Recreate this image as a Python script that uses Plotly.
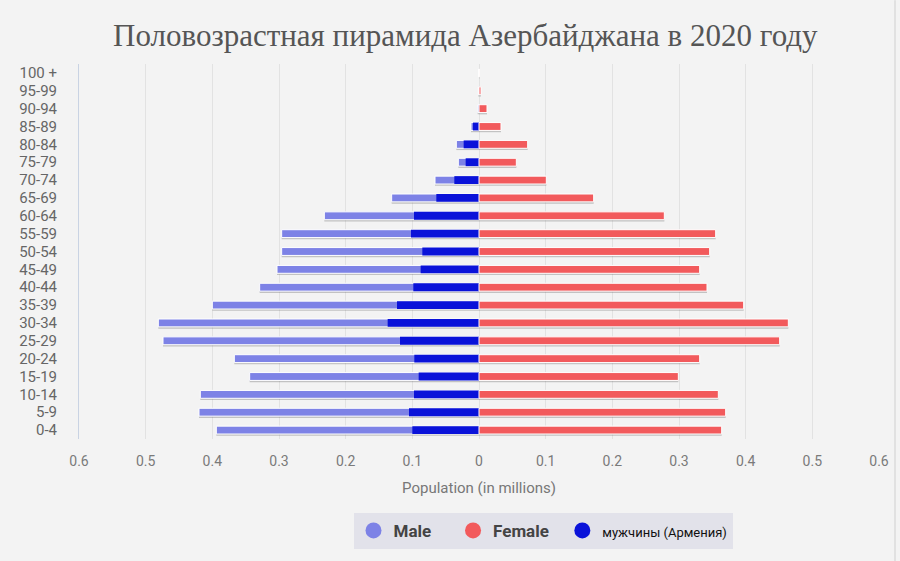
import plotly.graph_objects as go

ages = ["0-4", "5-9", "10-14", "15-19", "20-24", "25-29", "30-34", "35-39",
        "40-44", "45-49", "50-54", "55-59", "60-64", "65-69", "70-74", "75-79",
        "80-84", "85-89", "90-94", "95-99", "100 +"]
male = [0.394, 0.420, 0.418, 0.344, 0.367, 0.474, 0.481, 0.400, 0.329, 0.303,
        0.296, 0.296, 0.232, 0.131, 0.066, 0.031, 0.034, 0.012, 0.002, 0.001, 0.0]
female = [0.364, 0.370, 0.359, 0.299, 0.331, 0.451, 0.464, 0.397, 0.342, 0.331,
          0.346, 0.355, 0.278, 0.172, 0.101, 0.056, 0.073, 0.033, 0.012, 0.003, 0.0005]
male_armenia = [0.100, 0.105, 0.0975, 0.0905, 0.097, 0.1185, 0.137, 0.123, 0.0985, 0.0875,
                0.085, 0.102, 0.0975, 0.064, 0.037, 0.020, 0.023, 0.009, 0.0, 0.0, 0.0]
tick_vals = [-0.6, -0.5, -0.4, -0.3, -0.2, -0.1, 0, 0.1, 0.2, 0.3, 0.4, 0.5, 0.6]
tick_text = ["0.6", "0.5", "0.4", "0.3", "0.2", "0.1", "0", "0.1", "0.2", "0.3", "0.4", "0.5", "0.6"]

C_MALE = "#7d82e6"
C_FEMALE = "#f25a5c"
C_ARM = "#0a12d9"
SHADOW = "rgba(120,120,120,0.4)"
W = 0.44

fig = go.Figure()

neg = lambda arr: [-v for v in arr]

# shadows
for vals in (neg(male), female):
    fig.add_trace(go.Bar(y=ages, x=vals, orientation="h", width=W, offset=-W / 2 - 0.1,
                         marker=dict(color=SHADOW, line=dict(width=0)),
                         showlegend=False, hoverinfo="skip"))

fig.add_trace(go.Bar(y=ages, x=neg(male), orientation="h", width=W, offset=-W / 2,
                     marker=dict(color=C_MALE, line=dict(color="white", width=1)),
                     name="Male", showlegend=False))
fig.add_trace(go.Bar(y=ages, x=neg(male_armenia), orientation="h", width=W, offset=-W / 2,
                     marker=dict(color=C_ARM, line=dict(color="white", width=0)),
                     name="мужчины (Армения)", showlegend=False))
fig.add_trace(go.Bar(y=ages, x=female, orientation="h", width=W, offset=-W / 2,
                     marker=dict(color=C_FEMALE, line=dict(color="white", width=1)),
                     name="Female", showlegend=False))

# legend entries
legend_items = [("<b>Male</b>    ", C_MALE), ("<b>Female</b>  ", C_FEMALE),
                ("<span style='font-size:13px;color:#111'>мужчины (Армения)</span>", C_ARM)]
for nm, col in legend_items:
    fig.add_trace(go.Scatter(x=[None], y=[None], mode="markers", name=nm,
                             marker=dict(symbol="circle", size=16, color=col)))

fig.update_layout(
    width=900, height=561,
    paper_bgcolor="#f3f3f3", plot_bgcolor="#f3f3f3",
    barmode="overlay",
    margin=dict(l=79, r=21, t=64, b=120),
    title=dict(text="Половозрастная пирамида Азербайджана в 2020 году",
               x=0.517, xanchor="center", y=0.937, yanchor="middle",
               font=dict(family="Liberation Serif", size=31, color="#555555")),
    xaxis=dict(range=[-0.6, 0.6], tickvals=tick_vals, ticktext=tick_text,
               showgrid=True, gridcolor="#e2e2e2", gridwidth=1, zeroline=False,
               tickfont=dict(family="Roboto", size=14, color="#7a7a7a"),
               ticklabelstandoff=12, fixedrange=True,
               title=dict(text="Population (in millions)", standoff=14,
                          font=dict(family="Roboto", size=15, color="#777777"))),
    yaxis=dict(type="category", categoryorder="array", categoryarray=ages,
               tickmode="array", tickvals=ages, ticktext=ages,
               showgrid=False, zeroline=False, showline=True, linecolor="#c9d3e3", linewidth=1,
               tickfont=dict(family="Roboto", size=15, color="#666666"),
               ticklabelstandoff=18),
    legend=dict(orientation="h", x=0.58, xanchor="center", y=-0.245, yanchor="middle",
                bgcolor="#e2e2ea", font=dict(family="Roboto", size=17, color="#444444"),
                itemsizing="trace", traceorder="normal"),
    showlegend=True,
)

fig.add_shape(type="line", xref="paper", yref="paper", x0=1.02, x1=1.02, y0=-0.33, y1=1.17,
              line=dict(color="#cfcfcf", width=1))

fig.write_html("out.html", config={"displayModeBar": False},
               post_script="document.body.style.margin='0';")
